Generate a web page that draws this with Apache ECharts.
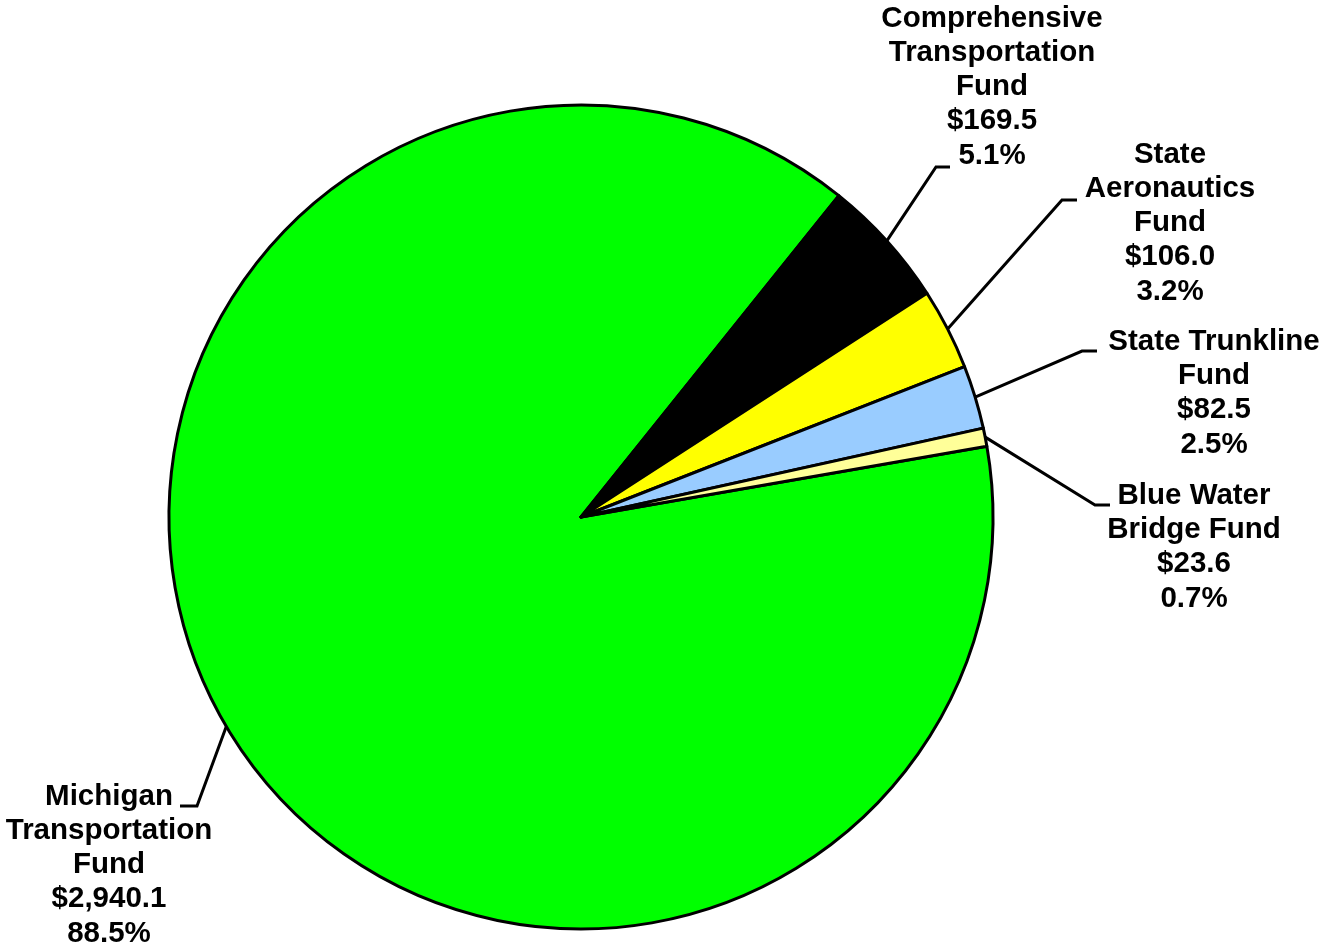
<!DOCTYPE html>
<html>
<head>
<meta charset="utf-8">
<script src="https://cdn.jsdelivr.net/npm/echarts@6/dist/echarts.min.js"></script>
<style>
  html, body { margin: 0; padding: 0; background: #fff; }
  #chart { width: 1324px; height: 947px; }
</style>
</head>
<body>
<div id="chart"></div>
<script>
// fund names and amounts (millions of dollars)
var funds = [
  'Michigan\nTransportation\nFund',
  'Comprehensive\nTransportation\nFund',
  'State\nAeronautics\nFund',
  'State Trunkline\nFund',
  'Blue Water\nBridge Fund'
];
var amounts = [2940.1, 169.5, 106.0, 82.5, 23.6];
var colors = ['#00ff00', '#000000', '#ffff00', '#99ccff', '#ffff99'];

// where each label block sits and where its leader line bends
var labelPos = [
  { x: 109, y: 865, elbow: [197, 806], end: [180, 806] },
  { x: 992, y: 87, elbow: [936, 167], end: [950, 167] },
  { x: 1170, y: 223, elbow: [1062, 200], end: [1077, 200] },
  { x: 1214, y: 393, elbow: [1082, 351], end: [1097, 351] },
  { x: 1194, y: 547, elbow: [1095, 505], end: [1110, 505] }
];

var pieData = [];
for (var i = 0; i < funds.length; i++) {
  pieData.push({ name: funds[i], value: amounts[i], itemStyle: { color: colors[i] } });
}

var chart = echarts.init(document.getElementById('chart'));
chart.setOption({
  backgroundColor: '#ffffff',
  animation: false,
  series: [{
    type: 'pie',
    center: [581, 517],
    radius: 412,
    startAngle: 9.9,
    clockwise: true,
    avoidLabelOverlap: false,
    percentPrecision: 1,
    minShowLabelAngle: 0,
    data: pieData,
    itemStyle: { borderColor: '#000', borderWidth: 3 },
    label: {
      show: true,
      position: 'outside',
      fontFamily: 'Liberation Sans',
      fontWeight: 'bold',
      fontSize: 29.5,
      lineHeight: 34.3,
      color: '#000',
      align: 'center',
      formatter: function (p) {
        var v = p.value.toLocaleString('en-US', { minimumFractionDigits: 1, maximumFractionDigits: 1 });
        return p.name + '\n$' + v + '\n' + p.percent.toFixed(1) + '%';
      }
    },
    labelLine: {
      show: true,
      length: 20,
      length2: 20,
      lineStyle: { color: '#000', width: 3 }
    },
    labelLayout: function (params) {
      var pos = labelPos[params.dataIndex];
      var pts = params.labelLinePoints;
      return {
        x: pos.x,
        y: pos.y,
        align: 'center',
        verticalAlign: 'middle',
        labelLinePoints: [pts[0], pos.elbow, pos.end]
      };
    }
  }]
});
</script>
</body>
</html>
